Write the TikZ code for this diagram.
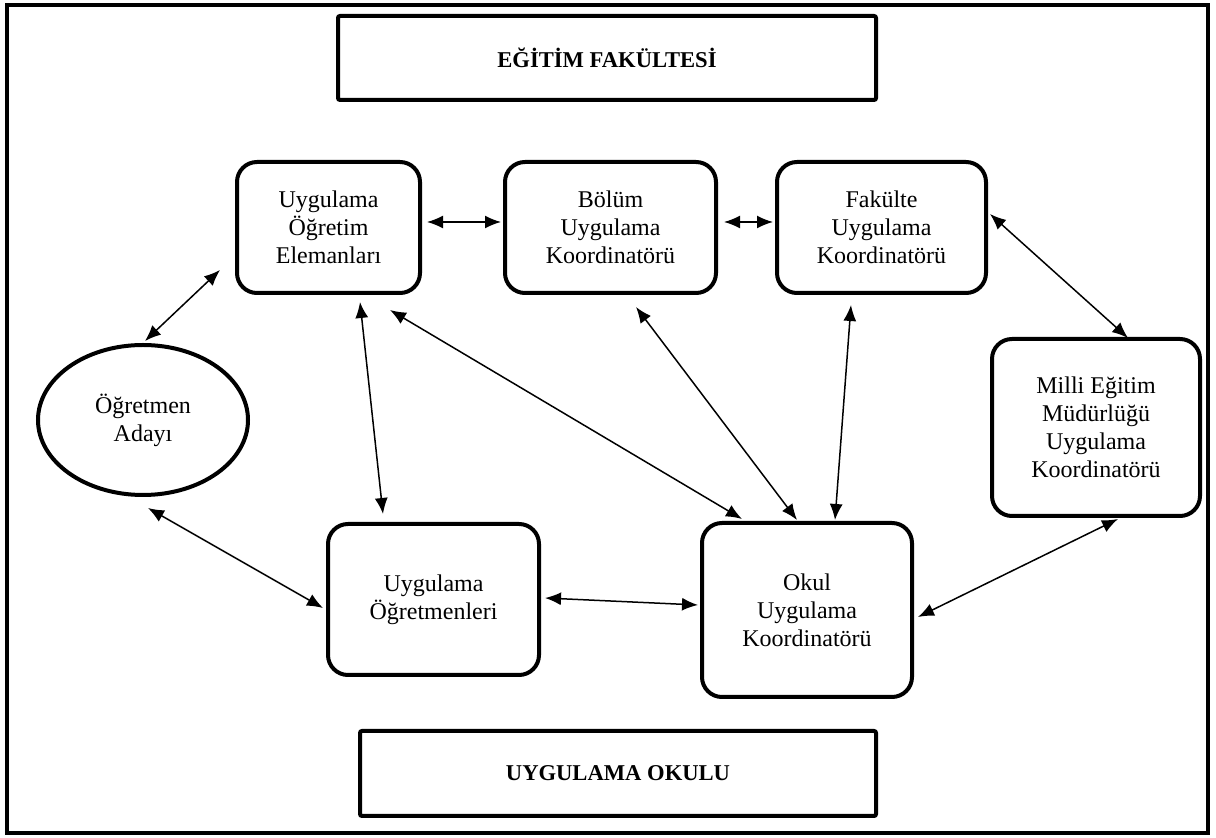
\documentclass[tikz,border=0pt]{standalone}
\usepackage{fontspec}
\setmainfont{Liberation Serif}
\usetikzlibrary{arrows.meta,shapes.geometric}
\begin{document}
\begin{tikzpicture}[x=0.5pt,y=-0.5pt,
  box/.style={draw,line width=2pt,rounded corners=10pt,align=center,inner sep=0pt,
    font=\fontsize{12}{14}\selectfont},
  titlebox/.style={draw,line width=2pt,rounded corners=1pt,inner sep=0pt,
    font=\fontsize{11.3}{13}\selectfont\bfseries},
  oval/.style={draw,line width=2pt,ellipse,align=center,inner sep=0pt,
    font=\fontsize{12}{14}\selectfont},
  arr/.style={line width=0.75pt,{Latex[length=8pt,width=6.5pt]}-{Latex[length=8pt,width=6.5pt]}}]
\useasboundingbox (0,0) rectangle (1216,838);
\draw[line width=2pt] (7,5) rectangle (1208,833);
\node[titlebox,minimum width=269pt,minimum height=42pt] (top) at (607,58) {EĞİTİM FAKÜLTESİ};
\node[titlebox,minimum width=258pt,minimum height=42.5pt] (bot) at (618,773.5) {UYGULAMA OKULU};
\node[box,minimum width=91.5pt,minimum height=65.5pt] (uoe) at (328.5,227.5) {Uygulama\\Öğretim\\Elemanları};
\node[box,minimum width=105.5pt,minimum height=65.5pt] (bolum) at (610.5,227.5) {Bölüm\\Uygulama\\Koordinatörü};
\node[box,minimum width=104.5pt,minimum height=65.5pt] (fak) at (881.5,227.5) {Fakülte\\Uygulama\\Koordinatörü};
\node[oval,minimum width=105pt,minimum height=75pt] (ell) at (143,420) {Öğretmen\\Adayı};
\node[box,minimum width=104pt,minimum height=88.5pt] (milli) at (1096,427.5) {Milli Eğitim\\Müdürlüğü\\Uygulama\\Koordinatörü};
\node[box,minimum width=105.5pt,minimum height=75.5pt] (uo) at (433.5,599.5) {Uygulama\\Öğretmenleri};
\node[box,minimum width=105pt,minimum height=87pt] (okul) at (807,610) {Okul\\Uygulama\\Koordinatörü};
\draw[arr] ([shift={(5,-5.5)}]uoe.east) -- ([shift={(-2,-5.5)}]bolum.west);
\draw[arr] ([shift={(6,-5.5)}]bolum.east) -- ([shift={(-2,-5.5)}]fak.west);
\draw[arr] ([shift={(2,-13.5)}]fak.east) -- ([shift={(32,1)}]milli.north);
\draw[arr] ([shift={(-15,-25)}]uoe.south west) -- ([shift={(2,-2)}]ell.north);
\draw[arr] ([shift={(31.5,7)}]uoe.south) -- ([shift={(-50.5,-8)}]uo.north);
\draw[arr] ([shift={(61.5,15)}]uoe.south) -- ([shift={(-65,-2)}]okul.north);
\draw[arr] ([shift={(25.5,12)}]bolum.south) -- ([shift={(-10,-1)}]okul.north);
\draw[arr] ([shift={(-30.5,10)}]fak.south) -- ([shift={(28,-1)}]okul.north);
\draw[arr] ([shift={(5,11)}]ell.south) -- ([shift={(-3,8.5)}]uo.west);
\draw[arr] ([shift={(4,-1.5)}]uo.east) -- ([shift={(-2,-5)}]okul.west);
\draw[arr] ([shift={(4,7)}]okul.east) -- ([shift={(22,1)}]milli.south);
\end{tikzpicture}
\end{document}
